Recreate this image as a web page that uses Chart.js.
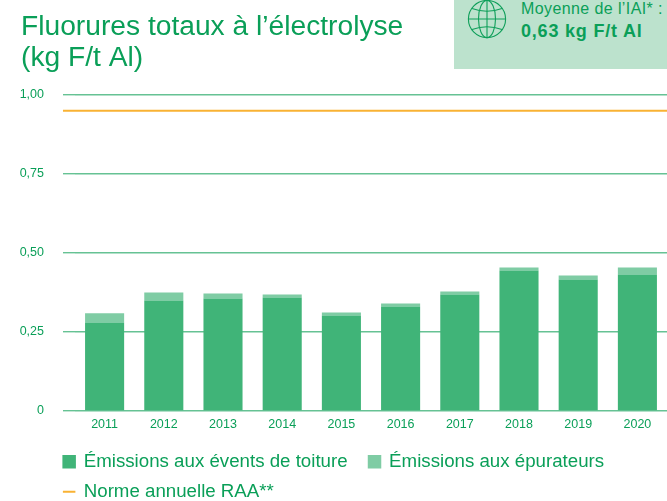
<!DOCTYPE html>
<html lang="fr">
<head>
<meta charset="utf-8">
<style>
html,body{margin:0;padding:0;background:#fff;width:667px;height:501px;overflow:hidden;font-family:"Liberation Sans",sans-serif}
#wrap{position:relative;width:667px;height:501px}
canvas{position:absolute;left:0;top:0}
#info{position:absolute;left:454px;top:0;width:213px;height:69px;background:#bce2cd;color:#0a9f58;overflow:hidden}
#info svg{position:absolute;left:13px;top:-1px}
#info .a{position:absolute;left:67px;top:0;font-size:16px;letter-spacing:.4px;line-height:18px;white-space:nowrap}
#info .b{position:absolute;left:67px;top:21px;font-size:18px;letter-spacing:.8px;line-height:21px;font-weight:bold;white-space:nowrap}
</style>
</head>
<body>
<div id="wrap">
<canvas id="c" width="667" height="501"></canvas>
<div id="info">
<svg width="40" height="40" viewBox="0 0 40 40" fill="none" stroke="#0f9f5a" stroke-width="1.1">
<circle cx="20" cy="20" r="18.6"/><ellipse cx="20" cy="20" rx="8.5" ry="18.6"/><line x1="20" y1="1.4" x2="20" y2="38.6"/>
<line x1="1.4" y1="20" x2="38.6" y2="20"/><path d="M5 9.5Q20 15 35 9.5"/><path d="M5 30.5Q20 25 35 30.5"/>
</svg>
<div class="a">Moyenne de l’IAI* :</div>
<div class="b">0,63 kg F/t Al</div>
</div>
</div>
<script src="https://cdn.jsdelivr.net/npm/chart.js@4"></script>
<script>
const titleLines = ["Fluorures totaux à l’électrolyse", "(kg F/t Al)"];
const categories = ["2011","2012","2013","2014","2015","2016","2017","2018","2019","2020"];
const toitureValues = [0.280,0.350,0.356,0.359,0.302,0.331,0.369,0.445,0.416,0.432];
const epurateursValues = [0.029,0.025,0.016,0.010,0.010,0.009,0.009,0.009,0.013,0.022];
const normeValue = 0.95;
const normeSpan = [-0.0203, 1];
const yTickLabels = ["0","0,25","0,50","0,75","1,00"];
const seriesNames = ["Émissions aux évents de toiture","Émissions aux épurateurs","Norme annuelle RAA**"];

const TEXT = "#0a9f58", DARK = "#40b478", LIGHT = "#7fcca4", ORANGE = "#f9b233", GRID = "#66c294";
const FONT = "'Liberation Sans', sans-serif";

const placeBoxes = {
  id: "placeBoxes",
  afterLayout(chart) {
    chart.titleBlock.left = 21;
    chart.legend.left = 52.6;
    chart.legend.top = 441;
    chart.legend.bottom = 513;
  }
};

new Chart(document.getElementById("c"), {
  data: {
    labels: categories,
    datasets: [
      { type: "bar", label: seriesNames[0], data: toitureValues, backgroundColor: DARK, stack: "e", grouped: false, barPercentage: 0.66, categoryPercentage: 1 },
      { type: "bar", label: seriesNames[1], data: epurateursValues, backgroundColor: LIGHT, stack: "e", grouped: false, barPercentage: 0.66, categoryPercentage: 1 },
      { type: "line", label: seriesNames[2], xAxisID: "x2", clip: false,
        data: normeSpan.map(x => ({ x, y: normeValue })),
        borderColor: ORANGE, borderWidth: 2, pointRadius: 0, fill: false }
    ]
  },
  options: {
    responsive: false,
    animation: false,
    layout: { padding: 0 },
    scales: {
      x: {
        stacked: true,
        grid: { display: false, drawTicks: false },
        border: { display: false },
        ticks: { color: TEXT, font: { family: FONT, size: 12.5 }, padding: 6, maxRotation: 0, autoSkip: false },
        afterFit(s) { s.height = 20; }
      },
      x2: { type: "linear", display: false, min: 0, max: 1 },
      y: {
        stacked: true, min: 0, max: 1,
        border: { display: false },
        grid: { color: GRID, lineWidth: 1.4, tickColor: GRID, tickLength: 12, drawTicks: true },
        ticks: {
          stepSize: 0.25, padding: 19, color: TEXT, font: { family: FONT, size: 12.5 },
          callback: (v, i) => yTickLabels[i]
        },
        afterFit(s) { s.width = 75; }
      }
    },
    plugins: {
      tooltip: { enabled: false },
      title: {
        display: true, text: titleLines, align: "start", color: TEXT,
        font: { family: FONT, size: 28.2, weight: "normal", lineHeight: 1.1 },
        padding: { top: 12, bottom: 21 }
      },
      legend: {
        display: true, position: "bottom", align: "start",
        labels: {
          color: TEXT, font: { family: FONT, size: 18.7 }, padding: 11.3,
          usePointStyle: true, boxHeight: 10.5, pointStyleWidth: 10.5,
          generateLabels() {
            return [
              { text: seriesNames[0] + "\u00a0\u00a0", fillStyle: DARK, strokeStyle: DARK, lineWidth: 3, pointStyle: "rect", datasetIndex: 0, fontColor: TEXT },
              { text: seriesNames[1], fillStyle: LIGHT, strokeStyle: LIGHT, lineWidth: 3, pointStyle: "rect", datasetIndex: 1, fontColor: TEXT },
              { text: seriesNames[2], fillStyle: ORANGE, strokeStyle: ORANGE, lineWidth: 2, lineCap: "square", pointStyle: "line", datasetIndex: 2, fontColor: TEXT }
            ];
          }
        }
      }
    }
  },
  plugins: [placeBoxes]
});
</script>
</body>
</html>
